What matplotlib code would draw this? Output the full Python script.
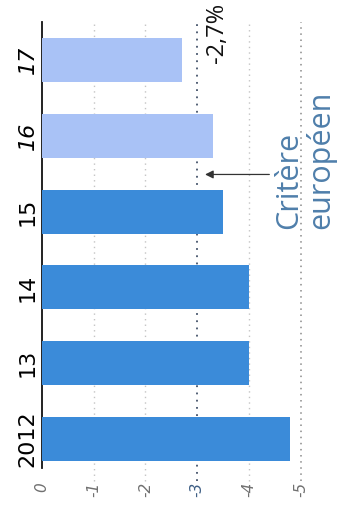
import matplotlib.pyplot as plt

# Déficit public (% du PIB), 2016-2017 = prévisions
annees = ["2012", "13", "14", "15", "16", "17"]
deficit = [-4.8, -4.0, -4.0, -3.5, -3.3, -2.7]
prevision = [False, False, False, False, True, True]
graduations = [0, -1, -2, -3, -4, -5]
critere = -3.0

bleu = "#3b8bd9"
bleu_clair = "#a9c2f6"

fig = plt.figure(figsize=(3.39, 5.22), dpi=100)
ax = fig.add_axes([42 / 339, 54 / 522, 288 / 339, 446 / 522])

pos = list(range(len(annees)))
couleurs = [bleu_clair if p else bleu for p in prevision]
ax.barh(pos, deficit, height=0.58, color=couleurs, zorder=3)

ax.set_xlim(0, -5.57)
ax.set_ylim(-0.38, 5.5)

# lignes de repère pointillées
for g in graduations[1:]:
    if g == critere:
        c, lw = "#44536a", 1.3
    elif g == -5:
        c, lw = "#8a8a8a", 1.1
    else:
        c, lw = "#c4c4c4", 1.0
    ax.plot([g, g], [-0.55, 5.5], ls=(0, (1, 3)), color=c, lw=lw,
            zorder=1, clip_on=False)

for s in ["top", "right", "bottom"]:
    ax.spines[s].set_visible(False)
ax.spines["left"].set_color("#111111")
ax.spines["left"].set_linewidth(1.3)

ax.set_yticks(pos)
ax.set_yticklabels(annees, rotation=90, va="center", fontsize=16,
                   family="DejaVu Sans")
for lab, p in zip(ax.get_yticklabels(), prevision):
    if p:
        lab.set_style("italic")
ax.tick_params(axis="y", length=0, pad=3)

ax.set_xticks(graduations)
ax.set_xticklabels([str(g) for g in graduations], rotation=90, fontsize=11,
                   style="italic", color="#707070", family="DejaVu Sans")
for lab, g in zip(ax.get_xticklabels(), graduations):
    if g == critere:
        lab.set_color("#3f5f85")
ax.tick_params(axis="x", length=0, pad=10)

# valeur de la dernière barre
dernier = deficit[-1]
ax.text(dernier - 0.68, 5.36, f"{dernier:.1f}".replace(".", ",") + "%",
        rotation=90, ha="center", va="center", fontsize=17,
        family="Open Sans", color="#111111", clip_on=False)

# critère européen
ax.annotate("", xy=(critere - 0.1, 3.49), xytext=(-4.45, 3.49),
            arrowprops=dict(arrowstyle="-|>", color="#333333", lw=0.9,
                            mutation_scale=12))
ax.text(-5.09, 3.68, "Critère\neuropéen", rotation=90, ha="center",
        va="center", multialignment="left", fontsize=22, family="Open Sans",
        color="#4f7fab", linespacing=1.05, clip_on=False)

fig.savefig("out.png", dpi=100)
